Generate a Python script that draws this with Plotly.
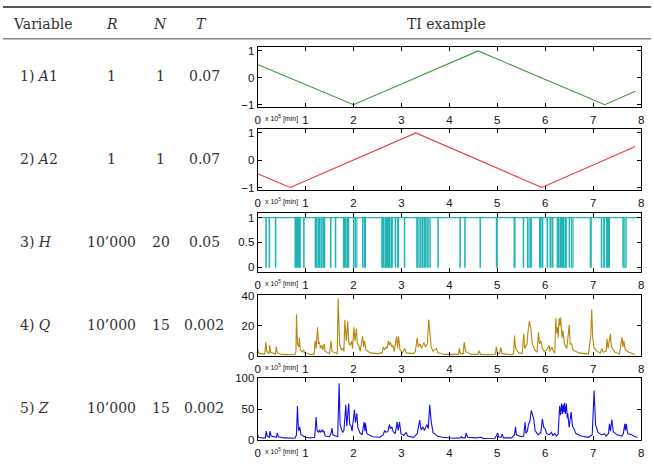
import plotly.graph_objects as go

W, H = 654, 475

# ---------------- table text ----------------
header_labels = ["Variable", "<i>R</i>", "<i>N</i>", "<i>T</i>", "TI example"]
row_vars = ["1) <i>A</i>1", "2) <i>A</i>2", "3) <i>H</i>", "4) <i>Q</i>", "5) <i>Z</i>"]
row_R = ["1", "1", "10’000", "10’000", "10’000"]
row_N = ["1", "1", "20", "15", "15"]
row_T = ["0.07", "0.07", "0.05", "0.002", "0.002"]

# ---------------- series data ----------------
A1_x = [0.0, 2.0, 4.6, 7.24, 7.88]
A1_y = [0.5, -1.0, 1.0, -1.0, -0.5]

A2_x = [0.0, 0.68, 3.3, 5.93, 7.88]
A2_y = [-0.5, -1.0, 1.0, -1.0, 0.5]

H_zero_start = [0.17, 0.24, 0.37, 0.78, 0.82, 0.85, 0.88, 0.96, 1.20, 1.24, 1.29, 1.33, 1.38,
                1.52, 1.62, 1.79, 1.83, 1.88, 2.00, 2.04, 2.19, 2.23, 2.59, 2.63, 2.68, 2.72,
                2.75, 2.80, 2.87, 2.92, 3.06, 3.32, 3.37, 3.43, 3.48, 3.53, 3.57, 3.76, 4.22,
                4.32, 4.64, 4.98, 5.35, 5.54, 5.63, 5.69, 5.88, 5.93, 6.04, 6.10, 6.15, 6.25,
                6.29, 6.34, 6.38, 6.43, 6.50, 6.55, 6.94, 7.17, 7.22, 7.28, 7.32, 7.62, 7.66]
H_zero_end = [0.18, 0.25, 0.38, 0.80, 0.84, 0.86, 0.89, 0.97, 1.22, 1.27, 1.30, 1.36, 1.40,
              1.53, 1.63, 1.81, 1.86, 1.90, 2.01, 2.07, 2.20, 2.25, 2.61, 2.66, 2.70, 2.73,
              2.78, 2.81, 2.88, 2.94, 3.07, 3.34, 3.40, 3.45, 3.50, 3.54, 3.60, 3.77, 4.23,
              4.33, 4.65, 5.00, 5.37, 5.55, 5.66, 5.71, 5.90, 5.95, 6.05, 6.12, 6.16, 6.27,
              6.32, 6.36, 6.41, 6.44, 6.51, 6.58, 6.96, 7.18, 7.24, 7.30, 7.34, 7.63, 7.69]
H_end = 7.93

Q_x = [0.00, 0.02, 0.05, 0.15, 0.17, 0.19, 0.24, 0.25, 0.27, 0.37, 0.39, 0.41, 0.50, 0.78, 0.80,
       0.81, 0.83, 0.86, 0.87, 0.89, 0.93, 0.96, 0.98, 1.10, 1.18, 1.20, 1.22, 1.25, 1.27, 1.29,
       1.31, 1.34, 1.36, 1.39, 1.41, 1.50, 1.53, 1.55, 1.66, 1.68, 1.71, 1.75, 1.78, 1.80, 1.82,
       1.85, 1.88, 1.90, 1.93, 1.96, 1.98, 2.01, 2.03, 2.06, 2.08, 2.11, 2.14, 2.19, 2.21, 2.23,
       2.26, 2.35, 2.50, 2.60, 2.62, 2.65, 2.68, 2.70, 2.73, 2.75, 2.77, 2.80, 2.82, 2.85, 2.90,
       2.92, 2.94, 2.97, 3.02, 3.07, 3.10, 3.25, 3.29, 3.31, 3.33, 3.35, 3.39, 3.42, 3.47, 3.50,
       3.54, 3.57, 3.60, 3.62, 3.66, 3.73, 3.76, 3.90, 4.19, 4.21, 4.23, 4.29, 4.31, 4.34, 4.45,
       4.60, 4.62, 4.65, 4.90, 4.96, 4.98, 5.00, 5.05, 5.07, 5.10, 5.30, 5.34, 5.36, 5.38, 5.45,
       5.52, 5.55, 5.57, 5.62, 5.64, 5.67, 5.70, 5.73, 5.78, 5.83, 5.86, 5.88, 5.91, 5.94, 5.98,
       6.03, 6.08, 6.10, 6.14, 6.17, 6.20, 6.22, 6.24, 6.26, 6.27, 6.29, 6.31, 6.32, 6.35, 6.37,
       6.40, 6.45, 6.50, 6.52, 6.55, 6.58, 6.70, 6.90, 6.95, 6.97, 6.99, 7.02, 7.08, 7.15, 7.18,
       7.21, 7.27, 7.29, 7.31, 7.36, 7.38, 7.45, 7.55, 7.58, 7.60, 7.62, 7.64, 7.67, 7.75, 7.87]
Q_y = [5, 2, 1.5, 1.2, 9, 3, 1.5, 7, 2.5, 1.2, 6, 2, 1, 0.8, 3,
       27.5, 8, 6, 12, 4, 2.5, 4, 2, 1, 1.2, 10, 5, 19, 8, 9,
       5, 7, 4, 8, 3, 1.5, 10, 3, 1.5, 38, 8, 4, 5, 3, 24,
       10, 23, 9, 7, 10, 5, 19, 10, 18, 8, 7, 3, 13, 6, 10,
       4, 2, 1.5, 2, 6, 4, 6, 5, 10, 7, 9, 6, 7, 3, 13,
       5, 13, 4, 2, 5, 2, 1.5, 3, 7, 12, 6, 8, 5, 9, 6,
       8, 24, 15, 6, 3, 5, 2, 1, 1, 5, 1.5, 1.5, 9, 3, 1,
       1, 3.4, 1, 0.8, 1.2, 6, 2, 1.5, 5.6, 1.5, 0.8, 1.5, 13.5, 5, 2,
       1.5, 14.6, 5, 8, 15.7, 23, 18, 8, 4, 2.5, 15.7, 8, 10, 5, 3,
       4, 7, 3, 6, 3, 2, 25, 15, 19, 12, 25, 20, 25.4, 12, 16.8,
       8, 5, 20.6, 8, 8, 4, 2, 1.2, 13, 30.7, 12, 5, 3, 2, 5,
       2.5, 3, 11.4, 5, 14.6, 6, 2.5, 1.5, 8, 12.5, 6, 10, 4, 2.5, 1]

Z_x = [0.00, 0.02, 0.10, 0.16, 0.18, 0.20, 0.24, 0.26, 0.28, 0.39, 0.41, 0.43, 0.55, 0.78, 0.81,
       0.83, 0.85, 0.86, 0.88, 0.90, 0.95, 1.00, 1.10, 1.19, 1.22, 1.24, 1.27, 1.29, 1.31, 1.35,
       1.37, 1.38, 1.41, 1.50, 1.53, 1.55, 1.57, 1.67, 1.70, 1.72, 1.77, 1.80, 1.84, 1.86, 1.90,
       1.92, 1.95, 1.97, 2.02, 2.04, 2.07, 2.09, 2.13, 2.18, 2.22, 2.24, 2.25, 2.28, 2.40, 2.55,
       2.62, 2.65, 2.68, 2.72, 2.75, 2.77, 2.80, 2.83, 2.87, 2.91, 2.93, 2.96, 2.99, 3.05, 3.10,
       3.13, 3.25, 3.33, 3.38, 3.41, 3.45, 3.48, 3.53, 3.56, 3.59, 3.62, 3.66, 3.75, 3.85, 4.10,
       4.23, 4.25, 4.27, 4.33, 4.35, 4.38, 4.55, 4.67, 4.70, 4.95, 5.01, 5.03, 5.08, 5.10, 5.13,
       5.30, 5.36, 5.38, 5.40, 5.50, 5.55, 5.58, 5.60, 5.63, 5.65, 5.68, 5.71, 5.74, 5.76, 5.79,
       5.85, 5.91, 5.94, 5.97, 6.00, 6.03, 6.08, 6.13, 6.16, 6.20, 6.23, 6.27, 6.30, 6.32, 6.34,
       6.36, 6.37, 6.39, 6.40, 6.42, 6.44, 6.46, 6.47, 6.50, 6.54, 6.57, 6.60, 6.64, 6.75, 6.90,
       6.98, 7.02, 7.05, 7.10, 7.18, 7.24, 7.27, 7.32, 7.34, 7.36, 7.39, 7.42, 7.50, 7.60, 7.63,
       7.66, 7.675, 7.69, 7.72, 7.80, 7.87, 7.93]
Z_y = [8, 4, 3, 3, 14, 6, 4, 14, 6, 4, 11, 5, 3, 2.5, 8,
       55, 18, 15, 21, 9, 6, 4, 3, 4, 37, 15, 12, 16, 12, 16,
       12, 15, 6, 5, 10, 19, 8, 5, 92, 25, 12, 15, 57, 22, 59,
       25, 22, 14, 49, 28, 43, 20, 12, 8, 29, 14, 27, 10, 5, 4,
       8, 15, 12, 14, 25, 18, 21, 13, 10, 29, 15, 29, 10, 7, 12,
       6, 4, 10, 32, 16, 21, 15, 25, 18, 57, 30, 12, 6, 4, 2.5,
       3, 5, 3, 3, 11, 4, 3, 4, 2, 2.5, 11, 4, 4, 9, 3,
       3, 8, 21, 8, 5, 6, 29, 10, 15, 25, 30, 48, 36, 34, 15,
       8, 12, 34, 20, 18, 10, 8, 12, 7, 10, 6, 10, 55, 40, 59,
       42, 57, 45, 60, 42, 59, 35, 43, 20, 45, 22, 18, 10, 6, 4,
       8, 80, 25, 12, 8, 10, 6, 10, 26, 14, 33, 13, 8, 6, 10,
       26, 15, 26, 10, 8, 5, 4]

# build step signal for H from its zero intervals
H_x, H_y = [0.0], [1.0]
for s, e in zip(H_zero_start, H_zero_end):
    H_x += [s, s, e, e]
    H_y += [1.0, 0.0, 0.0, 1.0]
H_x.append(H_end)
H_y.append(1.0)

series = [
    (A1_x, A1_y, "#3b9b3b", [-1.1, 1.15], [-1, 0, 1], ["−1", "0", "1"]),
    (A2_x, A2_y, "#e83a3a", [-1.1, 1.15], [-1, 0, 1], ["−1", "0", "1"]),
    (H_x, H_y, "#1fb5b5", [-0.1, 1.1], [0, 0.5, 1], ["0", "0.5", "1"]),
    (Q_x, Q_y, "#b8860b", [0, 40], [0, 20, 40], ["0", "20", "40"]),
    (Z_x, Z_y, "#1010e6", [0, 100], [0, 50, 100], ["0", "50", "100"]),
]

# pixel boxes of each panel (top, bottom)
panel_px = [(42, 104), (126, 189), (212, 273), (297, 359), (382, 445)]
x_left_px, x_right_px = 257, 644
row_y_px = [72, 157, 242, 327, 412]

fig = go.Figure()
layout = {}
annotations = []
tick_font = dict(family="Liberation Sans", size=11.5, color="#111")
x_ticks = list(range(0, 9))

for i, (xs, ys, col, yr, ytv, ytt) in enumerate(series):
    n = "" if i == 0 else str(i + 1)
    fig.add_trace(go.Scatter(x=xs, y=ys, mode="lines", line=dict(color=col, width=1.1),
                             xaxis="x" + n, yaxis="y" + n, showlegend=False, hoverinfo="skip"))
    top, bot = panel_px[i]
    layout["xaxis" + n] = dict(
        domain=[x_left_px / W, x_right_px / W], range=[0, 8], anchor="y" + n,
        tickvals=x_ticks, ticktext=[str(v) for v in x_ticks],
        ticks="inside", ticklen=4, tickcolor="#000", showline=True, linecolor="#000",
        linewidth=1, mirror="ticks", showgrid=False, zeroline=False, tickfont=tick_font,
        ticklabelstandoff=2)
    layout["yaxis" + n] = dict(
        domain=[1 - bot / H, 1 - top / H], range=yr, anchor="x" + n,
        tickvals=ytv, ticktext=ytt,
        ticks="inside", ticklen=4, tickcolor="#000", showline=True, linecolor="#000",
        linewidth=1, mirror="ticks", showgrid=False, zeroline=False, tickfont=tick_font)
    annotations.append(dict(
        text="x 10<sup>5</sup> [min]", xref="x" + n, yref="y" + n + " domain",
        x=0, y=0, xanchor="left", yanchor="top", xshift=5, yshift=-5, showarrow=False,
        font=dict(family="Liberation Sans", size=7, color="#111")))

serif = "DejaVu Serif"
txt_col = "#333"
hdr_x = [40, 110, 158, 200, 448]
for lab, xp in zip(header_labels, hdr_x):
    annotations.append(dict(text=lab, x=xp / W, y=1 - 18 / H, xref="paper", yref="paper",
                            xanchor="center", yanchor="middle", showarrow=False,
                            font=dict(family=serif, size=14, color=txt_col)))

for i in range(5):
    yp = 1 - row_y_px[i] / H
    annotations.append(dict(text=row_vars[i], x=15 / W, y=yp, xref="paper", yref="paper",
                            xanchor="left", yanchor="middle", showarrow=False,
                            font=dict(family=serif, size=14, color=txt_col)))
    for txt, xp in zip([row_R[i], row_N[i], row_T[i]], [110, 159, 203]):
        annotations.append(dict(text=txt, x=xp / W, y=yp, xref="paper", yref="paper",
                                xanchor="center", yanchor="middle", showarrow=False,
                                font=dict(family=serif, size=14, color=txt_col)))

shapes = [
    dict(type="line", xref="paper", yref="paper", x0=0, x1=1, y0=1 - 1 / H, y1=1 - 1 / H,
         line=dict(color="#555", width=2)),
    dict(type="line", xref="paper", yref="paper", x0=0, x1=1, y0=1 - 33.5 / H, y1=1 - 33.5 / H,
         line=dict(color="#888", width=1.5)),
]

fig.update_layout(width=W, height=H, margin=dict(l=0, r=0, t=0, b=0),
                  paper_bgcolor="white", plot_bgcolor="white",
                  font=dict(family="Liberation Sans"),
                  annotations=annotations, shapes=shapes, **layout)

fig.write_html("out.html")
